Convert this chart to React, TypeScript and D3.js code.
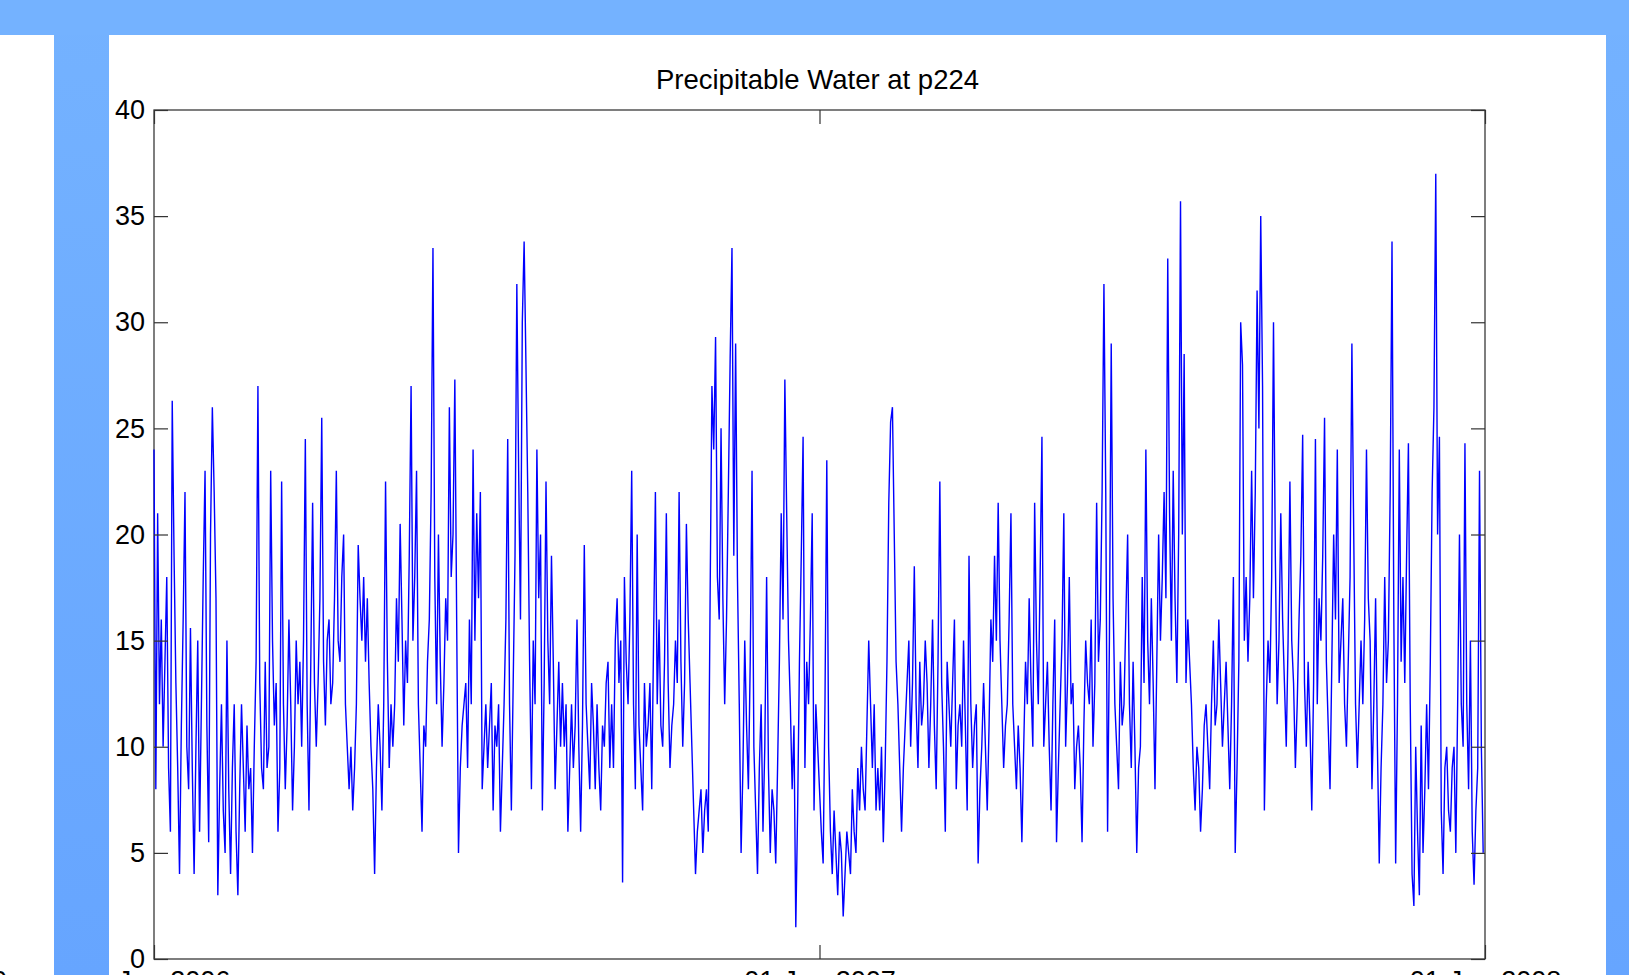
import { useEffect, useRef } from 'react';
import * as d3 from 'd3';

// daily precipitable water values
const jan06 = [24, 8, 21, 12, 16, 10, 14, 18, 9, 6, 26.3, 19, 13, 9, 4, 11, 16, 22, 10, 8, 15.6, 9, 4, 10, 15, 6, 12, 18, 23, 11, 5.5];
const feb06 = [20, 26, 22, 17, 3, 8, 12, 7, 5, 15, 8, 4, 9, 12, 6, 3, 8, 12, 9, 6, 11, 8, 9, 5, 10, 14, 27, 13];
const mar06 = [9, 8, 14, 9, 10, 23, 15, 11, 13, 6, 9, 22.5, 12, 8, 11, 16, 12, 7, 10, 15, 12, 14, 10, 15, 24.5, 12, 7, 14, 21.5, 13, 10];
const apr06 = [13, 17, 25.5, 14, 11, 15, 16, 12, 13, 17, 23, 15, 14, 18, 20, 12, 10, 8, 10, 7, 9, 12, 19.5, 17, 15, 18, 14, 17, 13, 10];
const may06 = [8, 4, 9, 12, 10, 7, 12, 22.5, 14, 9, 12, 10, 12, 17, 14, 20.5, 16, 11, 15, 13, 19, 27, 15, 18, 23, 12, 9, 6, 11, 10, 14];
const jun06 = [16, 22, 33.5, 18, 12, 20, 14, 10, 13, 17, 15, 26, 18, 20, 27.3, 16, 5, 9, 11, 12, 13, 9, 16, 12, 24, 15, 21, 17, 22, 8];
const jul06 = [10, 12, 9, 11, 13, 7, 11, 10, 12, 6, 9, 12, 16, 24.5, 12, 7, 13, 19, 31.8, 23, 16, 30, 33.8, 28, 22, 14, 8, 15, 12, 24, 17];
const aug06 = [20, 7, 13, 22.5, 15, 12, 19, 14, 8, 11, 14, 10, 13, 10, 12, 6, 9, 12, 9, 11, 16, 10, 6, 11, 19.5, 12, 10, 8, 13, 11, 8];
const sep06 = [12, 9, 7, 11, 10, 13, 14, 9, 12, 9, 15, 17, 13, 15, 3.6, 18, 14, 12, 16, 23, 12, 8, 20, 11, 9, 7, 13, 10, 11, 13];
const oct06 = [8, 15, 22, 12, 16, 11, 10, 14, 21, 13, 9, 11, 12, 15, 13, 22, 14, 10, 13, 20.5, 16, 13, 10, 7, 4, 6, 7, 8, 5, 7, 8];
const nov06 = [6, 17, 27, 24, 29.3, 18, 16, 25, 17, 12, 16, 22, 28.3, 33.5, 19, 29, 18, 12, 5, 9, 15, 11, 8, 14, 23, 10, 7, 4, 9, 12];
const dec06 = [6, 10, 18, 9, 5, 8, 7, 4.5, 9, 14, 21, 16, 27.3, 21, 15, 12, 8, 11, 1.5, 7, 14, 19, 24.6, 9, 14, 12, 16, 21, 7, 12, 10];
const jan07 = [8, 6, 4.5, 12, 23.5, 10, 6, 4, 7, 5, 3, 6, 5, 2, 4, 6, 5, 4, 8, 6, 5, 9, 7, 10, 8, 7, 11, 15, 12, 9, 12];
const feb07 = [7, 9, 7, 10, 5.5, 9, 14, 21.5, 25.3, 26, 20, 14, 12, 9, 6, 9, 11, 13, 15, 10, 13, 18.5, 12, 9, 14, 11, 12, 15];
const mar07 = [13, 9, 12, 16, 11, 8, 14, 22.5, 13, 10, 6, 14, 12, 10, 13, 16, 8, 11, 12, 10, 15, 11, 7, 19, 12, 9, 11, 12, 4.5, 8, 10];
const apr07 = [13, 10, 7, 11, 16, 14, 19, 15, 21.5, 15, 12, 9, 11, 12, 16, 21, 12, 10, 8, 11, 9, 5.5, 10, 14, 12, 17, 13, 10, 21.5, 15];
const may07 = [12, 18, 24.6, 10, 12, 14, 10, 7, 12, 16, 5.5, 9, 12, 15, 21, 10, 13, 18, 12, 13, 8, 10, 11, 9, 5.5, 11, 15, 13, 12, 16, 10];
const jun07 = [13, 21.5, 14, 16, 22, 31.8, 22, 6, 15, 29, 17, 12, 10, 8, 14, 11, 12, 16, 20, 12, 9, 14, 10, 5, 9, 10, 18, 13, 24, 15];
const jul07 = [12, 17, 13, 8, 14, 20, 15, 18, 22, 17, 33, 21, 15, 23, 17, 13, 20, 35.7, 20, 28.5, 13, 16, 14, 12, 9, 7, 10, 9, 6, 8, 11];
const aug07 = [12, 10, 8, 12, 15, 11, 12, 16, 13, 10, 12, 14, 11, 8, 12, 18, 5, 9, 14, 30, 28, 15, 18, 14, 17, 23, 17, 22, 31.5, 25, 35];
const sep07 = [27, 7, 12, 15, 13, 18, 30, 19, 12, 15, 21, 16, 13, 10, 15, 22.5, 15, 13, 9, 12, 16, 19, 24.7, 13, 10, 14, 11, 7, 13, 24.5];
const oct07 = [12, 17, 15, 19, 25.5, 14, 11, 8, 14, 20, 16, 24, 13, 15, 17, 12, 10, 14, 18, 29, 20, 12, 9, 12, 15, 12, 16, 24, 17, 15, 8];
const nov07 = [12, 17, 10, 4.5, 9, 12, 18, 13, 15, 22, 33.8, 16, 4.5, 12, 24, 14, 18, 13, 19, 24.3, 12, 4, 2.5, 10, 6, 3, 11, 5, 8, 12];
const dec07 = [8, 14, 22, 26, 37, 20, 24.6, 7, 4, 9, 10, 7, 6, 9, 10, 5, 12, 20, 12, 10, 24.3, 12, 8, 15, 6, 3.5, 7, 9, 23, 10, 5];

const months = [
  jan06, feb06, mar06, apr06, may06, jun06, jul06, aug06, sep06, oct06, nov06, dec06,
  jan07, feb07, mar07, apr07, may07, jun07, jul07, aug07, sep07, oct07, nov07, dec07,
];

const startDate = new Date(2006, 0, 1);
const xTicks = [new Date(2006, 0, 1), new Date(2007, 0, 1), new Date(2008, 0, 1)];
const yTicks = [0, 5, 10, 15, 20, 25, 30, 35, 40];
const title = 'Precipitable Water at p224';

const FONT = 'Liberation Sans, Arial, Helvetica, sans-serif';

export default function App() {
  const svgRef = useRef<SVGSVGElement | null>(null);

  useEffect(() => {
    if (!svgRef.current) return;
    const W = 1629;
    const H = 975;
    const box = { left: 154, right: 1485, top: 110, bottom: 959 };

    const svg = d3.select(svgRef.current);
    svg.selectAll('*').remove();

    const values = months.flat();
    const dates = values.map((_, i) => d3.timeDay.offset(startDate, i));

    const x = d3.scaleTime().domain([xTicks[0], xTicks[2]]).range([box.left, box.right]);
    const y = d3.scaleLinear().domain([0, 40]).range([box.bottom, box.top]);

    svg.append('rect').attr('width', W).attr('height', H).attr('fill', '#fff');

    // plot frame
    svg
      .append('rect')
      .attr('x', box.left)
      .attr('y', box.top)
      .attr('width', box.right - box.left)
      .attr('height', box.bottom - box.top)
      .attr('fill', '#fff')
      .attr('stroke', '#3a3a3a')
      .attr('stroke-width', 1.3);

    const line = d3
      .line<number>()
      .x((_, i) => x(dates[i]))
      .y((d) => y(d));

    svg
      .append('path')
      .datum(values)
      .attr('d', line)
      .attr('fill', 'none')
      .attr('stroke', '#0000ff')
      .attr('stroke-width', 1.4)
      .attr('stroke-linejoin', 'miter')
      .attr('stroke-miterlimit', 2);

    const styleAxis = (g: d3.Selection<SVGGElement, unknown, null, undefined>) => {
      g.select('.domain').remove();
      g.selectAll('line').attr('stroke', '#333').attr('stroke-width', 1.2);
      g.attr('font-family', FONT).attr('font-size', 27);
      g.selectAll('text').attr('fill', '#000');
    };

    // left axis with labels, right axis ticks only
    svg
      .append('g')
      .attr('transform', `translate(${box.left},0)`)
      .call(d3.axisLeft(y).tickValues(yTicks).tickSizeInner(-14).tickSizeOuter(0).tickPadding(9) as any)
      .call(styleAxis as any);

    svg
      .append('g')
      .attr('transform', `translate(${box.right},0)`)
      .call(d3.axisRight(y).tickValues(yTicks).tickSizeInner(-14).tickSizeOuter(0).tickFormat(() => '') as any)
      .call(styleAxis as any);

    // bottom axis with date labels, top axis ticks only
    svg
      .append('g')
      .attr('transform', `translate(0,${box.bottom})`)
      .call(
        d3
          .axisBottom(x)
          .tickValues(xTicks)
          .tickSizeInner(-14)
          .tickSizeOuter(0)
          .tickPadding(12)
          .tickFormat(d3.timeFormat('%d-%b-%Y') as any) as any
      )
      .call(styleAxis as any);

    svg
      .append('g')
      .attr('transform', `translate(0,${box.top})`)
      .call(d3.axisTop(x).tickValues(xTicks).tickSizeInner(-14).tickSizeOuter(0).tickFormat(() => '') as any)
      .call(styleAxis as any);

    svg
      .append('text')
      .attr('x', (box.left + box.right) / 2 - 2)
      .attr('y', 89)
      .attr('text-anchor', 'middle')
      .attr('font-family', FONT)
      .attr('font-size', 27.5)
      .attr('fill', '#000')
      .text(title);

    // stray clipped glyph at the far left edge
    svg
      .append('text')
      .attr('x', -8)
      .attr('y', 990)
      .attr('font-family', FONT)
      .attr('font-size', 27)
      .attr('fill', '#000')
      .text('0');

    // slide frame drawn over the figure
    const defs = svg.append('defs');
    const grad = defs
      .append('linearGradient')
      .attr('id', 'strip')
      .attr('gradientUnits', 'userSpaceOnUse')
      .attr('x1', 0)
      .attr('y1', 0)
      .attr('x2', 0)
      .attr('y2', H);
    grad.append('stop').attr('offset', 0).attr('stop-color', '#74b2ff');
    grad.append('stop').attr('offset', 1).attr('stop-color', '#66a5ff');

    svg.append('rect').attr('x', 0).attr('y', 0).attr('width', W).attr('height', 35).attr('fill', '#74b2ff');
    svg.append('rect').attr('x', 54).attr('y', 35).attr('width', 55).attr('height', H - 35).attr('fill', 'url(#strip)');
    svg.append('rect').attr('x', 1606).attr('y', 35).attr('width', W - 1606).attr('height', H - 35).attr('fill', 'url(#strip)');
  }, []);

  return (
    <svg
      ref={svgRef}
      width={1629}
      height={975}
      style={{ position: 'absolute', left: 0, top: 0, display: 'block' }}
    ></svg>
  );
}
